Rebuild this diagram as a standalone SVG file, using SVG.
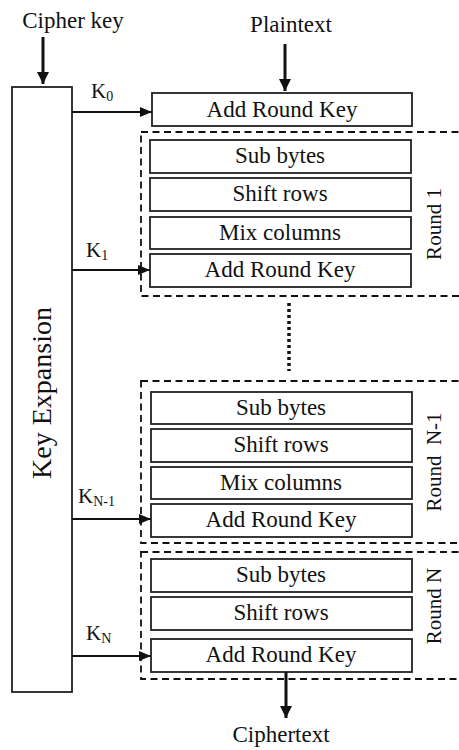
<svg xmlns="http://www.w3.org/2000/svg" width="459" height="750" viewBox="0 0 459 750" font-family="'Liberation Serif', 'DejaVu Serif', serif">
<style>
text{font-family:'Liberation Serif','DejaVu Serif',serif;fill:#111}
.t{font-size:23px;text-anchor:middle}
.k{font-size:21px}
.s{font-size:14px}
.r{font-size:21px;text-anchor:middle}
.box{fill:#fff;stroke:#222;stroke-width:1.8}
.dash{fill:none;stroke:#111;stroke-width:1.8;stroke-dasharray:7 4.5}
.ar{stroke:#111;stroke-width:2;fill:none;marker-end:url(#ah)}
.arb{stroke:#111;stroke-width:3;fill:none;marker-end:url(#ahb)}
</style>
<defs>
<marker id="ah" viewBox="0 0 12 10" refX="12" refY="5" markerWidth="12" markerHeight="10" markerUnits="userSpaceOnUse" orient="auto"><path d="M0,0 L12,5 L0,10 z" fill="#111"/></marker>
<marker id="ahb" viewBox="0 0 12 12" refX="12" refY="6" markerWidth="12" markerHeight="12" markerUnits="userSpaceOnUse" orient="auto"><path d="M0,0 L12,6 L0,12 z" fill="#111"/></marker>
</defs>
<rect width="459" height="750" fill="#fff"/>

<g id="labels">
<text class="t" x="73" y="28">Cipher key</text>
<text class="t" x="291" y="32">Plaintext</text>
<text class="t" x="281" y="742">Ciphertext</text>
</g>

<g id="keyexp">
<rect class="box" x="12" y="87" width="60" height="605"/>
<text transform="translate(51,393) rotate(-90)" style="font-size:28px;text-anchor:middle">Key Expansion</text>
</g>

<g id="round1">
<rect class="dash" x="141" y="132" width="330" height="164"/>
<text class="r" transform="translate(441,224) rotate(-90)">Round 1</text>
</g>
<g id="roundN1">
<rect class="dash" x="141" y="381" width="330" height="162"/>
<text class="r" transform="translate(441,462) rotate(-90)" xml:space="preserve">Round  N-1</text>
</g>
<g id="roundN">
<rect class="dash" x="141" y="552" width="330" height="127"/>
<text class="r" transform="translate(441,606) rotate(-90)">Round N</text>
</g>

<g id="ark0"><rect class="box" x="152" y="93" width="260" height="33"/><text class="t" x="282" y="117">Add Round Key</text></g>

<g id="sb1"><rect class="box" x="150" y="140" width="261" height="33"/><text class="t" x="280" y="163">Sub bytes</text></g>
<g id="sr1"><rect class="box" x="150" y="178" width="261" height="33"/><text class="t" x="280" y="201">Shift rows</text></g>
<g id="mc1"><rect class="box" x="150" y="217" width="261" height="32"/><text class="t" x="280" y="240">Mix columns</text></g>
<g id="ark1"><rect class="box" x="150" y="254" width="261" height="33"/><text class="t" x="280" y="277">Add Round Key</text></g>

<g id="sbN1"><rect class="box" x="151" y="392" width="261" height="32"/><text class="t" x="281" y="415">Sub bytes</text></g>
<g id="srN1"><rect class="box" x="151" y="429" width="261" height="33"/><text class="t" x="281" y="452">Shift rows</text></g>
<g id="mcN1"><rect class="box" x="151" y="467" width="261" height="32"/><text class="t" x="281" y="490">Mix columns</text></g>
<g id="arkN1"><rect class="box" x="151" y="504" width="261" height="33"/><text class="t" x="281" y="527">Add Round Key</text></g>

<g id="sbN"><rect class="box" x="151" y="559" width="261" height="33"/><text class="t" x="281" y="582">Sub bytes</text></g>
<g id="srN"><rect class="box" x="151" y="597" width="261" height="33"/><text class="t" x="281" y="620">Shift rows</text></g>
<g id="arkN"><rect class="box" x="151" y="639" width="261" height="33"/><text class="t" x="281" y="662">Add Round Key</text></g>

<g id="connectors">
<line class="arb" x1="43" y1="37" x2="43" y2="84"/>
<line class="arb" x1="285" y1="44" x2="285" y2="91"/>
<line class="arb" x1="286" y1="672" x2="286" y2="718"/>
<line class="ar" x1="72" y1="112" x2="152" y2="112"/>
<line class="ar" x1="72" y1="270" x2="150" y2="270"/>
<line class="ar" x1="72" y1="519" x2="151" y2="519"/>
<line class="ar" x1="72" y1="656" x2="151" y2="656"/>
<line x1="289" y1="303" x2="289" y2="371" stroke="#111" stroke-width="3.5" stroke-dasharray="3 3"/>
<text class="k" x="91" y="98">K<tspan class="s" dy="3">0</tspan></text>
<text class="k" x="86" y="257">K<tspan class="s" dy="3">1</tspan></text>
<text class="k" x="78" y="503">K<tspan class="s" dy="3">N-1</tspan></text>
<text class="k" x="86" y="640">K<tspan class="s" dy="3">N</tspan></text>
</g>
</svg>
